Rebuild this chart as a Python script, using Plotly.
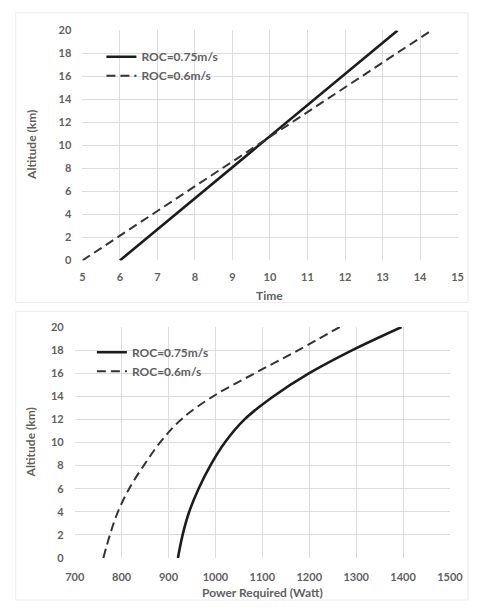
import plotly.graph_objects as go

# ---- data ----
alt_top = [0, 20]
time_075 = [6.0, 13.4]
time_06 = [5.0, 14.3]

alt_bot = [0, 2, 4, 6, 8, 10, 12, 14, 16, 18, 20]
power_075 = [920, 930, 944, 964, 989, 1020, 1062, 1124, 1200, 1292, 1397]
power_06 = [761, 775, 792, 816, 847, 882, 927, 995, 1084, 1177, 1265]

name_075 = "ROC=0.75m/s"
name_06 = "ROC=0.6m/s"

W, H = 482, 608
def px(x): return x / W
def py(y): return 1 - y / H

FONT = "Lato"
GRAY = "#5f5f5f"
GRID = "#dddddd"
LINE = "#1c1c1c"
DASH = "9px,5px"

fig = go.Figure()

fig.add_trace(go.Scatter(x=time_075, y=alt_top, mode="lines", name=name_075,
                         line=dict(color=LINE, width=2.6), xaxis="x", yaxis="y",
                         legend="legend"))
fig.add_trace(go.Scatter(x=time_06, y=alt_top, mode="lines", name=name_06,
                         line=dict(color="#333333", width=2, dash=DASH),
                         xaxis="x", yaxis="y", legend="legend"))
fig.add_trace(go.Scatter(x=power_075, y=alt_bot, mode="lines", name=name_075,
                         line=dict(color=LINE, width=2.6, shape="spline", smoothing=1.0),
                         xaxis="x2", yaxis="y2", legend="legend2"))
fig.add_trace(go.Scatter(x=power_06, y=alt_bot, mode="lines", name=name_06,
                         line=dict(color="#333333", width=2, dash=DASH, shape="spline", smoothing=1.0),
                         xaxis="x2", yaxis="y2", legend="legend2"))

tickfont = dict(family=FONT, size=11, color=GRAY, weight="bold")

def ax(**kw):
    d = dict(showgrid=True, gridcolor=GRID, gridwidth=1, zeroline=False,
             showline=False, tickfont=tickfont, ticks="", fixedrange=True)
    d.update(kw)
    return d

legfont = dict(family=FONT, size=12, color=GRAY, weight="bold")

fig.update_layout(
    width=W, height=H,
    margin=dict(l=0, r=0, t=0, b=0),
    paper_bgcolor="white", plot_bgcolor="rgba(255,255,255,0)",
    font=dict(family=FONT, color=GRAY),
    xaxis=ax(domain=[px(76), px(470)], range=[5, 15], tickmode="linear", tick0=5, dtick=1,
             anchor="y", ticklabelstandoff=9),
    yaxis=ax(domain=[py(259), py(24)], range=[0, 20], tickmode="linear", tick0=0, dtick=2,
             anchor="x", ticklabelstandoff=10),
    xaxis2=ax(domain=[px(68), px(462)], range=[700, 1500], tickmode="linear", tick0=700, dtick=100,
              anchor="y2", ticklabelstandoff=11),
    yaxis2=ax(domain=[py(563), py(327)], range=[0, 20], tickmode="linear", tick0=0, dtick=2,
              anchor="x2", ticklabelstandoff=10),
    legend=dict(x=px(96), y=py(36), xanchor="left", yanchor="top",
                bgcolor="rgba(0,0,0,0)", itemwidth=30, font=legfont, tracegroupgap=0),
    legend2=dict(x=px(86), y=py(338), xanchor="left", yanchor="top",
                 bgcolor="rgba(0,0,0,0)", itemwidth=30, font=legfont, tracegroupgap=0),
    showlegend=True,
)

# axis titles
titlefont = dict(family=FONT, size=12, color=GRAY, weight="bold")
fig.add_annotation(text="Altitude (km)", x=px(23), y=py(141), xref="paper", yref="paper",
                   textangle=-90, showarrow=False, font=titlefont,
                   xanchor="center", yanchor="middle")
fig.add_annotation(text="Time", x=px(273), y=py(295), xref="paper", yref="paper",
                   showarrow=False, font=titlefont, xanchor="center", yanchor="middle")
fig.add_annotation(text="Altitude (km)", x=px(22), y=py(445), xref="paper", yref="paper",
                   textangle=-90, showarrow=False, font=titlefont,
                   xanchor="center", yanchor="middle")
fig.add_annotation(text="Power Required (Watt)", x=px(265), y=py(598), xref="paper", yref="paper",
                   showarrow=False, font=titlefont, xanchor="center", yanchor="middle")

# faint chart-area borders
fig.add_shape(type="rect", xref="paper", yref="paper", x0=px(6), x1=px(481), y0=py(302), y1=py(6),
              line=dict(color="#ececec", width=1), layer="below")
fig.add_shape(type="rect", xref="paper", yref="paper", x0=px(6), x1=px(481), y0=py(606), y1=py(311),
              line=dict(color="#ececec", width=1), layer="below")

fig.write_html("out.html")
